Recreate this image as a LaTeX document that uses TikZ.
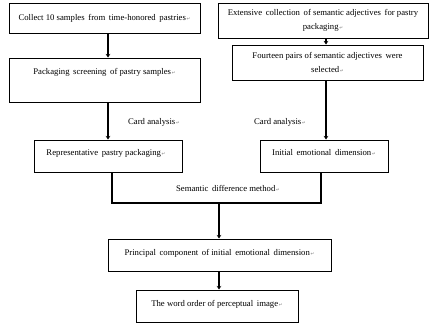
\documentclass[tikz,border=0pt]{standalone}
\usepackage{fontspec}
\setmainfont{Liberation Serif}
\newfontfamily\symfont{DejaVu Sans}
\usetikzlibrary{arrows.meta}
\newcommand{\rmk}{{\symfont\fontsize{4.5}{5}\selectfont\color{gray}\,↵}}
\begin{document}
\begin{tikzpicture}[x=1pt,y=-1pt,
  every node/.style={font=\fontsize{8.7}{13.5}\selectfont},
  box/.style={draw,line width=1pt,inner sep=0pt,align=center},
  lbl/.style={inner sep=0pt},
  arr/.style={line width=2pt,-{Stealth[length=3.5pt,width=4.5pt]}},
  thick line/.style={line width=2pt}]
\useasboundingbox (0,0) rectangle (430,325);
% left column
\node[box,minimum width=191pt,minimum height=30pt] (b1) at (104.5,18) {Collect 10 samples\, from\, time-honored\, pastries\rmk};
\node[box,minimum width=191pt,minimum height=44pt] (b2) at (104.5,80) {};
\node[lbl] (b2t) at (104.5,72) {Packaging\, screening\, of pastry samples\rmk};
\node[box,minimum width=148pt,minimum height=32pt] (b3) at (108,156) {};
\node[lbl] (b3t) at (106,153) {Representative\, pastry packaging\rmk};
% right column
\node[box,minimum width=210pt,minimum height=35pt] (r1) at (323,20.5) {Extensive\, collection\, of semantic adjectives\, for pastry\\packaging\rmk};
\node[box,minimum width=191pt,minimum height=35pt] (r2) at (327.5,62.5) {Fourteen pairs of semantic adjectives\, were\\selected\rmk};
\node[box,minimum width=128pt,minimum height=32pt] (r3) at (324,156) {};
\node[lbl] (r3t) at (324,153) {Initial\, emotional\, dimension\rmk};
% bottom
\node[box,minimum width=223pt,minimum height=32pt] (p) at (219.5,255) {};
\node[lbl] (pt) at (219.5,253) {Principal\, component\, of initial\, emotional\, dimension\rmk};
\node[box,minimum width=162pt,minimum height=32pt] (w) at (217,306) {};
\node[lbl] (wt) at (217,304) {The word order of perceptual\, image\rmk};
% labels
\node[lbl] (ca1) at (154,122) {Card analysis\rmk};
\node[lbl] (ca2) at (280,122) {Card analysis\rmk};
\node[lbl] (sdm) at (228,188) {Semantic\, difference method\rmk};
% coordinates
\coordinate (la) at (108,0);
\coordinate (ra) at (326,0);
\coordinate (lb) at (112,203);
\coordinate (rb) at (321,203);
\coordinate (mj) at (219,203);
% connectors
\draw[arr] (b1.south -| la) -- (b2.north -| la);
\draw[arr] (b2.south -| la) -- (b3.north -| la);
\draw[arr] (r1.south -| ra) -- (r2.north -| ra);
\draw[arr] (r2.south -| ra) -- (r3.north -| ra);
\draw[thick line] (b3.south -| lb) -- (lb) -- (rb) -- (r3.south -| rb);
\draw[arr] (mj) -- (p.north -| mj);
\draw[arr] (p.south -| mj) -- (w.north -| mj);
\end{tikzpicture}
\end{document}
